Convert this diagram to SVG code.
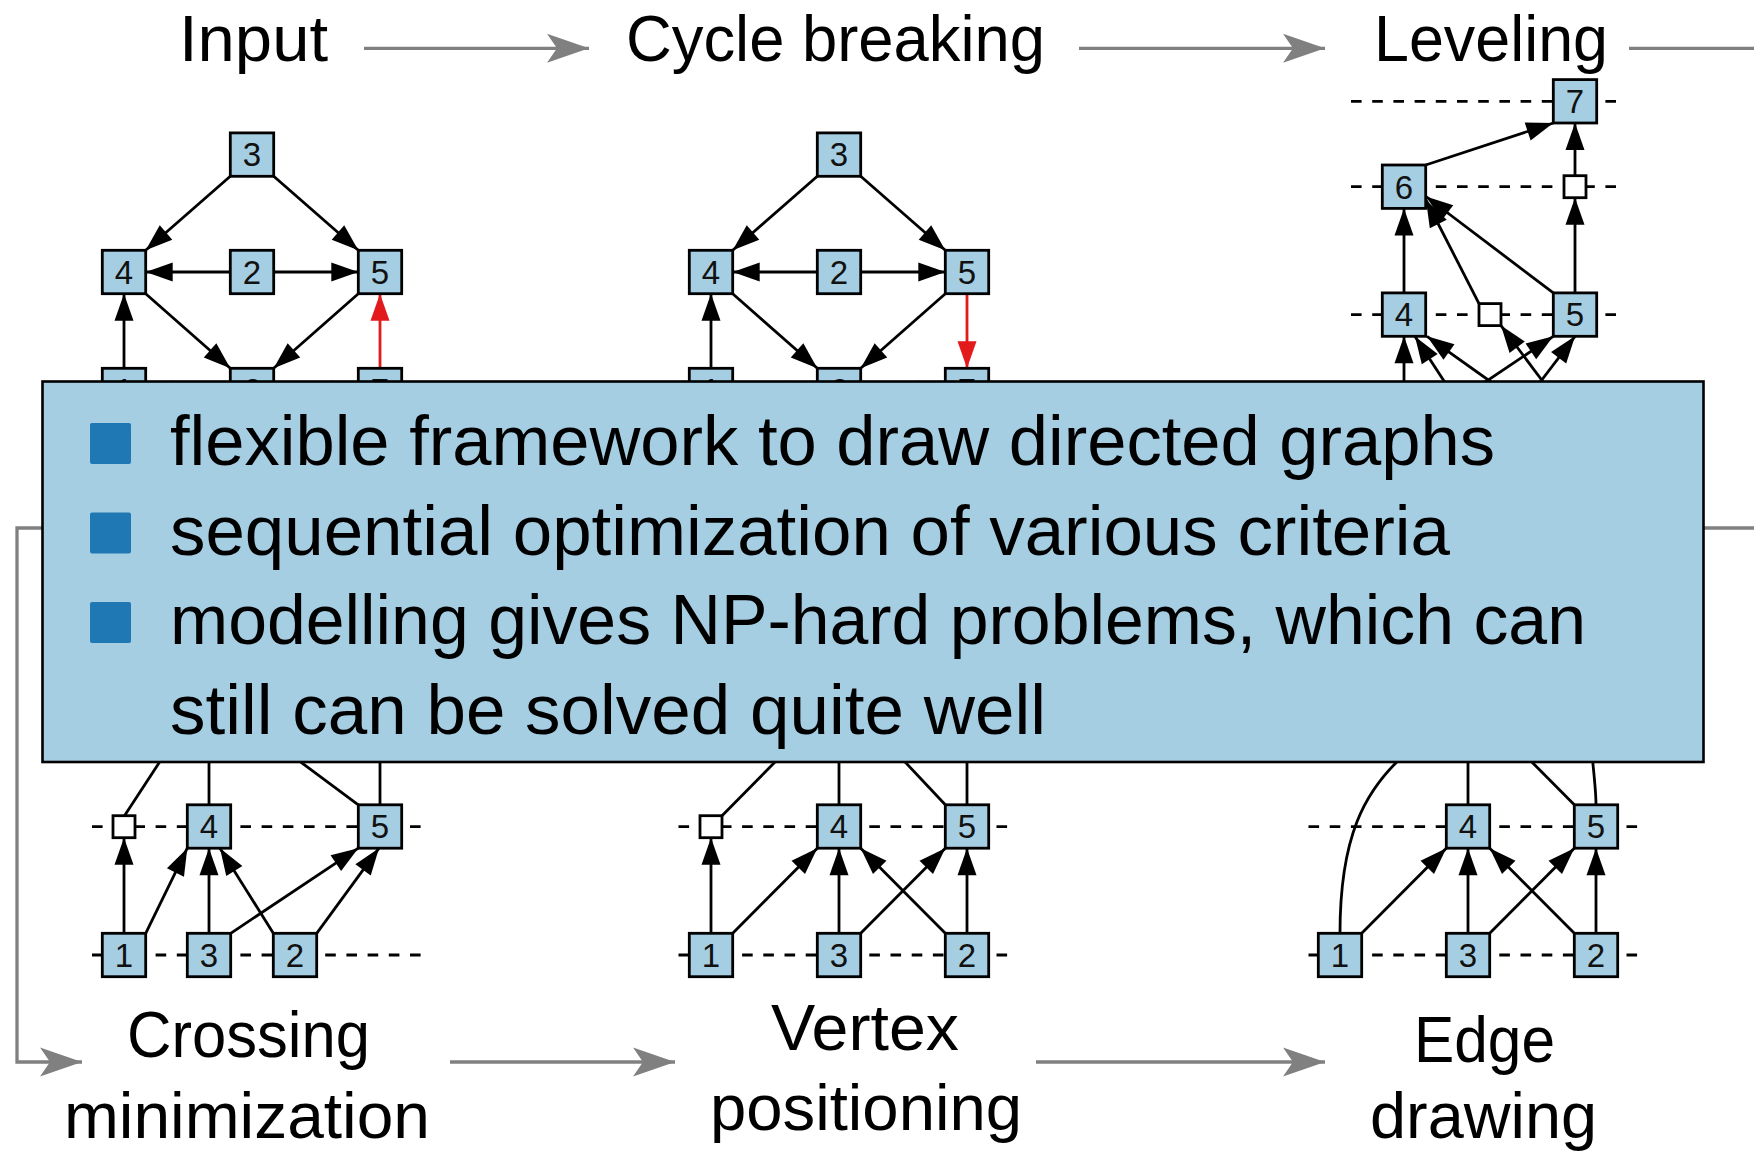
<svg xmlns="http://www.w3.org/2000/svg" width="1754" height="1155" viewBox="0 0 1754 1155">
<style>
.e{stroke:#000;stroke-width:2.8;fill:none;marker-end:url(#ah)}
.r{stroke:#E31A1C;stroke-width:2.8;fill:none;marker-end:url(#ahr)}
.l{stroke:#000;stroke-width:2.8;fill:none}
.lv{stroke:#000;stroke-width:2.8;fill:none;stroke-dasharray:10.6 10.6}
.g{stroke:#808080;stroke-width:3.3;fill:none;marker-end:url(#ga)}
.nd{fill:#A6CEE3;stroke:#000;stroke-width:2.8}
.dm{fill:#fff;stroke:#000;stroke-width:2.8}
.nt{font-family:"Liberation Sans",Arial,sans-serif;font-size:33px;text-anchor:middle;fill:#111}
.tt{font-family:"Liberation Sans",Arial,sans-serif;font-size:64px;fill:#000}
.bt{font-family:"Liberation Sans",Arial,sans-serif;font-size:70px;fill:#000}
.bl{fill:#1F77B4}
</style>
<defs>
<marker id="ah" markerUnits="userSpaceOnUse" markerWidth="30" markerHeight="22" viewBox="-28 -11 30 22" refX="0" refY="0" orient="auto"><path d="M0,0 L-27,-9.5 L-27,9.5 Z" fill="#000"/></marker>
<marker id="ahr" markerUnits="userSpaceOnUse" markerWidth="30" markerHeight="22" viewBox="-28 -11 30 22" refX="0" refY="0" orient="auto"><path d="M0,0 L-27,-9.5 L-27,9.5 Z" fill="#E31A1C"/></marker>
<marker id="ga" markerUnits="userSpaceOnUse" markerWidth="46" markerHeight="32" viewBox="-44 -16 46 32" refX="0" refY="0" orient="auto"><path d="M0,0 L-42,-14.5 L-32,0 L-42,14.5 Z" fill="#808080"/></marker>
</defs>

<g id="connectors">
<!-- pipeline arrows -->
<path class="g" d="M364,48.3 L589,48.3"/>
<path class="g" d="M1079,48.3 L1325,48.3"/>
<path class="g" d="M1629,48.3 H1790 V528 H17 V1062 H82"/>
<path class="g" d="M450,1062 L675,1062"/>
<path class="g" d="M1036,1062 L1325,1062"/>

<!-- Input graph -->
<path class="e" d="M230.3,176.3 L145.7,250.3"/>
<path class="e" d="M273.7,176.3 L358.3,250.3"/>
<path class="e" d="M230.3,272 L145.7,272"/>
<path class="e" d="M273.7,272 L358.3,272"/>
<path class="e" d="M145.7,293.7 L230.3,368.3"/>
<path class="e" d="M358.3,293.7 L273.7,368.3"/>
<path class="e" d="M124,368.3 L124,293.7"/>
<path class="r" d="M380,368.3 L380,293.7"/>
<path class="r" d="M230.3,390 L145.7,390"/>
<path class="e" d="M273.7,390 L358.3,390"/>

<!-- Cycle breaking graph -->
<path class="e" d="M817.3,176.3 L732.7,250.3"/>
<path class="e" d="M860.7,176.3 L945.3,250.3"/>
<path class="e" d="M817.3,272 L732.7,272"/>
<path class="e" d="M860.7,272 L945.3,272"/>
<path class="e" d="M732.7,293.7 L817.3,368.3"/>
<path class="e" d="M945.3,293.7 L860.7,368.3"/>
<path class="e" d="M711,368.3 L711,293.7"/>
<path class="r" d="M967,293.7 L967,368.3"/>
<path class="r" d="M732.7,390 L817.3,390"/>
<path class="e" d="M860.7,390 L945.3,390"/>

<!-- Leveling graph -->
<path class="lv" d="M1351,101.3 H1618"/>
<path class="lv" d="M1351,186.7 H1618"/>
<path class="lv" d="M1351,314.6 H1618"/>
<path class="e" d="M1425.7,165 L1553.3,123"/>
<path class="e" d="M1575,175.7 L1575,123"/>
<path class="e" d="M1575,292.9 L1575,197.7"/>
<path class="e" d="M1404,292.9 L1404,208.4"/>
<path class="e" d="M1479,303.6 L1426,200"/>
<path class="e" d="M1553.3,292.9 L1426,196.5"/>
<path class="e" d="M1404,400 L1404,336.3"/>
<path class="e" d="M1456.4,400 L1415,336.5"/>
<path class="e" d="M1516.4,400 L1427,336.3"/>
<path class="e" d="M1556.7,400 L1501,325.6"/>
<path class="e" d="M1458.5,400 L1553.3,336.3"/>
<path class="e" d="M1526.5,400 L1575,336.3"/>

<!-- Crossing minimization graph -->
<path class="lv" d="M92,826.7 H423"/>
<path class="lv" d="M92,955 H423"/>
<path class="e" d="M124,933.3 L124,837.7"/>
<path class="e" d="M145.7,933.3 L187.3,848.2"/>
<path class="e" d="M209,933.3 L209,848.2"/>
<path class="e" d="M273.3,933.3 L220,848.2"/>
<path class="e" d="M230.7,933.3 L358.3,848.2"/>
<path class="e" d="M316.7,933.3 L379,848.2"/>
<path class="l" d="M124.5,815.7 L174,740"/>
<path class="l" d="M209,804.8 L209,740"/>
<path class="l" d="M358.3,804.8 L271,740"/>
<path class="l" d="M380,804.8 L380,740"/>

<!-- Vertex positioning graph -->
<path class="lv" d="M678.5,826.7 H1009.5"/>
<path class="lv" d="M678.5,955 H1009.5"/>
<path class="e" d="M711,933.3 L711,837.7"/>
<path class="e" d="M732.7,933.3 L817.3,848.2"/>
<path class="e" d="M839,933.3 L839,848.2"/>
<path class="e" d="M945.3,933.3 L860.7,848.2"/>
<path class="e" d="M860.7,933.3 L945.3,848.2"/>
<path class="e" d="M967,933.3 L967,848.2"/>
<path class="l" d="M722,815.7 L796.7,740"/>
<path class="l" d="M839,804.8 L839,740"/>
<path class="l" d="M945.3,804.8 L884.4,740"/>
<path class="l" d="M967,804.8 L967,740"/>

<!-- Edge drawing graph -->
<path class="lv" d="M1308.5,826.7 H1639"/>
<path class="lv" d="M1308.5,955 H1639"/>
<path class="e" d="M1361.7,933.3 L1446.3,848.2"/>
<path class="e" d="M1468,933.3 L1468,848.2"/>
<path class="e" d="M1574.3,933.3 L1489.7,848.2"/>
<path class="e" d="M1489.7,933.3 L1574.3,848.2"/>
<path class="e" d="M1596,933.3 L1596,848.2"/>
<path class="l" d="M1340,933.3 C1340,840 1362,790 1410,750"/>
<path class="l" d="M1468,804.8 L1468,740"/>
<path class="l" d="M1574.3,804.8 L1510,740"/>
<path class="l" d="M1596,804.8 C1596,790 1594,775 1591,745"/>
</g>

<!-- Input nodes -->
<g id="in-3"><rect class="nd" x="230.3" y="132.9" width="43.4" height="43.4"/><text class="nt" x="252" y="166.4">3</text></g>
<g id="in-4"><rect class="nd" x="102.3" y="250.3" width="43.4" height="43.4"/><text class="nt" x="124" y="283.8">4</text></g>
<g id="in-2"><rect class="nd" x="230.3" y="250.3" width="43.4" height="43.4"/><text class="nt" x="252" y="283.8">2</text></g>
<g id="in-5"><rect class="nd" x="358.3" y="250.3" width="43.4" height="43.4"/><text class="nt" x="380" y="283.8">5</text></g>
<g id="in-1"><rect class="nd" x="102.3" y="368.3" width="43.4" height="43.4"/><text class="nt" x="124" y="401.8">1</text></g>
<g id="in-6"><rect class="nd" x="230.3" y="368.3" width="43.4" height="43.4"/><text class="nt" x="252" y="401.8">6</text></g>
<g id="in-7"><rect class="nd" x="358.3" y="368.3" width="43.4" height="43.4"/><text class="nt" x="380" y="401.8">7</text></g>

<!-- Cycle breaking nodes -->
<g id="cb-3"><rect class="nd" x="817.3" y="132.9" width="43.4" height="43.4"/><text class="nt" x="839" y="166.4">3</text></g>
<g id="cb-4"><rect class="nd" x="689.3" y="250.3" width="43.4" height="43.4"/><text class="nt" x="711" y="283.8">4</text></g>
<g id="cb-2"><rect class="nd" x="817.3" y="250.3" width="43.4" height="43.4"/><text class="nt" x="839" y="283.8">2</text></g>
<g id="cb-5"><rect class="nd" x="945.3" y="250.3" width="43.4" height="43.4"/><text class="nt" x="967" y="283.8">5</text></g>
<g id="cb-1"><rect class="nd" x="689.3" y="368.3" width="43.4" height="43.4"/><text class="nt" x="711" y="401.8">1</text></g>
<g id="cb-6"><rect class="nd" x="817.3" y="368.3" width="43.4" height="43.4"/><text class="nt" x="839" y="401.8">6</text></g>
<g id="cb-7"><rect class="nd" x="945.3" y="368.3" width="43.4" height="43.4"/><text class="nt" x="967" y="401.8">7</text></g>

<!-- Leveling nodes -->
<g id="lv-7"><rect class="nd" x="1553.3" y="79.6" width="43.4" height="43.4"/><text class="nt" x="1575" y="113.1">7</text></g>
<g id="lv-6"><rect class="nd" x="1382.3" y="165" width="43.4" height="43.4"/><text class="nt" x="1404" y="198.5">6</text></g>
<g id="lv-d6"><rect class="dm" x="1564" y="175.7" width="22" height="22"/></g>
<g id="lv-4"><rect class="nd" x="1382.3" y="292.9" width="43.4" height="43.4"/><text class="nt" x="1404" y="326.4">4</text></g>
<g id="lv-d4"><rect class="dm" x="1479" y="303.6" width="22" height="22"/></g>
<g id="lv-5"><rect class="nd" x="1553.3" y="292.9" width="43.4" height="43.4"/><text class="nt" x="1575" y="326.4">5</text></g>

<!-- Crossing minimization nodes -->
<g id="cm-d"><rect class="dm" x="113" y="815.7" width="22" height="22"/></g>
<g id="cm-4"><rect class="nd" x="187.3" y="804.8" width="43.4" height="43.4"/><text class="nt" x="209" y="838.3">4</text></g>
<g id="cm-5"><rect class="nd" x="358.3" y="804.8" width="43.4" height="43.4"/><text class="nt" x="380" y="838.3">5</text></g>
<g id="cm-1"><rect class="nd" x="102.3" y="933.3" width="43.4" height="43.4"/><text class="nt" x="124" y="966.8">1</text></g>
<g id="cm-3"><rect class="nd" x="187.3" y="933.3" width="43.4" height="43.4"/><text class="nt" x="209" y="966.8">3</text></g>
<g id="cm-2"><rect class="nd" x="273.3" y="933.3" width="43.4" height="43.4"/><text class="nt" x="295" y="966.8">2</text></g>

<!-- Vertex positioning nodes -->
<g id="vp-d"><rect class="dm" x="700" y="815.7" width="22" height="22"/></g>
<g id="vp-4"><rect class="nd" x="817.3" y="804.8" width="43.4" height="43.4"/><text class="nt" x="839" y="838.3">4</text></g>
<g id="vp-5"><rect class="nd" x="945.3" y="804.8" width="43.4" height="43.4"/><text class="nt" x="967" y="838.3">5</text></g>
<g id="vp-1"><rect class="nd" x="689.3" y="933.3" width="43.4" height="43.4"/><text class="nt" x="711" y="966.8">1</text></g>
<g id="vp-3"><rect class="nd" x="817.3" y="933.3" width="43.4" height="43.4"/><text class="nt" x="839" y="966.8">3</text></g>
<g id="vp-2"><rect class="nd" x="945.3" y="933.3" width="43.4" height="43.4"/><text class="nt" x="967" y="966.8">2</text></g>

<!-- Edge drawing nodes -->
<g id="ed-4"><rect class="nd" x="1446.3" y="804.8" width="43.4" height="43.4"/><text class="nt" x="1468" y="838.3">4</text></g>
<g id="ed-5"><rect class="nd" x="1574.3" y="804.8" width="43.4" height="43.4"/><text class="nt" x="1596" y="838.3">5</text></g>
<g id="ed-1"><rect class="nd" x="1318.3" y="933.3" width="43.4" height="43.4"/><text class="nt" x="1340" y="966.8">1</text></g>
<g id="ed-3"><rect class="nd" x="1446.3" y="933.3" width="43.4" height="43.4"/><text class="nt" x="1468" y="966.8">3</text></g>
<g id="ed-2"><rect class="nd" x="1574.3" y="933.3" width="43.4" height="43.4"/><text class="nt" x="1596" y="966.8">2</text></g>

<!-- Stage labels -->
<g id="labels">
<text class="tt" x="179" y="60.5" textLength="149" lengthAdjust="spacingAndGlyphs">Input</text>
<text class="tt" x="626" y="60.5" textLength="419" lengthAdjust="spacingAndGlyphs">Cycle breaking</text>
<text class="tt" x="1374" y="60.5" textLength="234" lengthAdjust="spacingAndGlyphs">Leveling</text>
<text class="tt" x="127" y="1057" textLength="243" lengthAdjust="spacingAndGlyphs">Crossing</text>
<text class="tt" x="64" y="1138" textLength="366" lengthAdjust="spacingAndGlyphs">minimization</text>
<text class="tt" x="771" y="1050" textLength="188" lengthAdjust="spacingAndGlyphs">Vertex</text>
<text class="tt" x="710" y="1130" textLength="312" lengthAdjust="spacingAndGlyphs">positioning</text>
<text class="tt" x="1414" y="1062" textLength="141" lengthAdjust="spacingAndGlyphs">Edge</text>
<text class="tt" x="1370" y="1138" textLength="227" lengthAdjust="spacingAndGlyphs">drawing</text>
</g>

<!-- Overlay panel -->
<g id="panel">
<rect x="42.5" y="381.5" width="1661" height="380.5" fill="#A6CEE3" stroke="#000" stroke-width="2.6"/>
<rect class="bl" x="90" y="423" width="41" height="41" rx="2"/>
<rect class="bl" x="90" y="512.5" width="41" height="41" rx="2"/>
<rect class="bl" x="90" y="602" width="41" height="41" rx="2"/>
<text class="bt" x="170" y="465" textLength="1325" lengthAdjust="spacingAndGlyphs">flexible framework to draw directed graphs</text>
<text class="bt" x="170" y="554.5" textLength="1280" lengthAdjust="spacingAndGlyphs">sequential optimization of various criteria</text>
<text class="bt" x="170" y="644" textLength="1416" lengthAdjust="spacingAndGlyphs">modelling gives NP-hard problems, which can</text>
<text class="bt" x="170" y="733.5" textLength="876" lengthAdjust="spacingAndGlyphs">still can be solved quite well</text>
</g>
</svg>
